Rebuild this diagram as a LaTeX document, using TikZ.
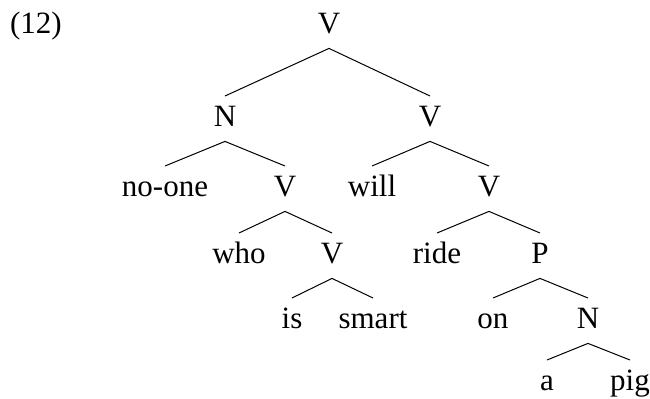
\documentclass[tikz,border=0pt]{standalone}
\usepackage{fontspec}
\setmainfont{Liberation Serif}
\usepackage{tikz}

\begin{document}
\begin{tikzpicture}[x=0.5pt, y=-0.5pt,
    word/.style={anchor=base, font=\fontsize{15.5}{18}\selectfont, text height=10.3pt, text depth=3pt, inner ysep=4.5pt, inner xsep=0pt},
    branch/.style={line width=0.5pt}
]
    \useasboundingbox (0,0) rectangle (650,398);

    \node[word] (ex) at (36,33) {(12)};

    \node[word] (root) at (329,33) {V};
    \node[word] (subj) at (225,126) {N};
    \node[word] (pred) at (430,126) {V};

    \node[word] (noone) at (165,196) {no-one};
    \node[word] (rel) at (285,196) {V};
    \node[word] (will) at (372,196) {will};
    \node[word] (vp) at (489,196) {V};

    \node[word] (who) at (239,263) {who};
    \node[word] (cop) at (332,263) {V};
    \node[word] (ride) at (437,263) {ride};
    \node[word] (pp) at (540,263) {P};

    \node[word] (is) at (292,328) {is};
    \node[word] (smart) at (373,328) {smart};
    \node[word] (on) at (493,328) {on};
    \node[word] (obj) at (588,328) {N};

    \node[word] (a) at (547,390) {a};
    \node[word] (pig) at (630,390) {pig};

    \foreach \p/\c in {root/subj, root/pred, subj/noone, subj/rel, pred/will, pred/vp,
                       rel/who, rel/cop, vp/ride, vp/pp, cop/is, cop/smart,
                       pp/on, pp/obj, obj/a, obj/pig} {
        \draw[branch] (\p.south) -- (\c.north);
    }
\end{tikzpicture}
\end{document}
